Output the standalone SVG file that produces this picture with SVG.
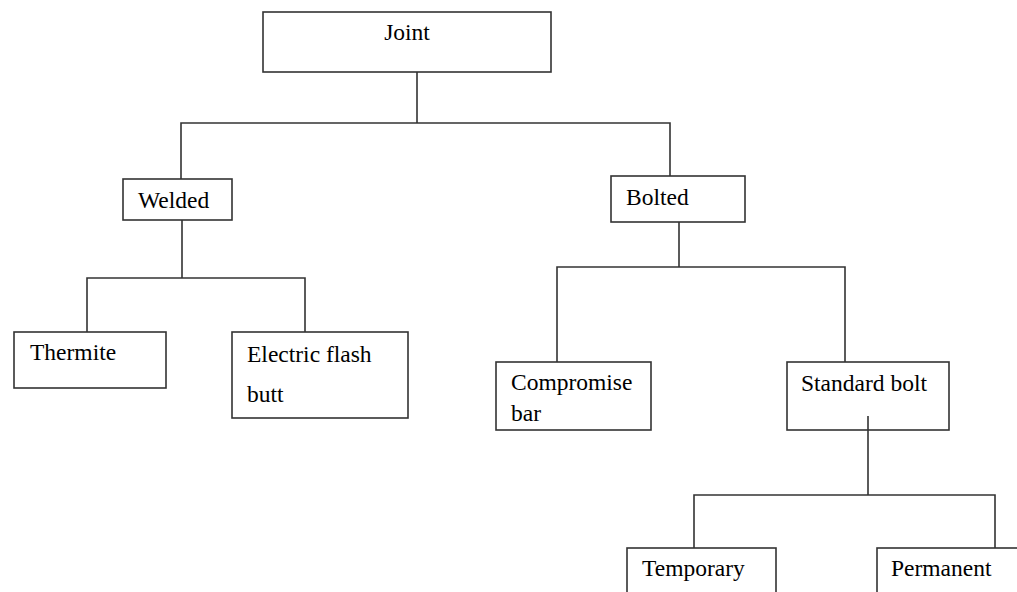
<svg xmlns="http://www.w3.org/2000/svg" width="1017" height="592" viewBox="0 0 1017 592">
<style>
.box{fill:#fff;stroke:#333;stroke-width:1.6}
.con{fill:none;stroke:#333;stroke-width:1.6}
text{font-family:"Liberation Serif","Times New Roman",serif;font-size:23.5px;fill:#000}
</style>
<rect width="1017" height="592" fill="#fff"/>
<g id="joint"><rect class="box" x="263" y="12" width="288" height="60"/><text x="407" y="40" text-anchor="middle">Joint</text></g>
<g id="welded"><rect class="box" x="123" y="179" width="109" height="41"/><text x="138" y="208">Welded</text></g>
<g id="bolted"><rect class="box" x="611" y="176" width="134" height="46"/><text x="626" y="205">Bolted</text></g>
<g id="thermite"><rect class="box" x="14" y="332" width="152" height="56"/><text x="30" y="360">Thermite</text></g>
<g id="electric"><rect class="box" x="232" y="332" width="176" height="86"/><text x="247" y="362">Electric flash</text><text x="247" y="402">butt</text></g>
<g id="compromise"><rect class="box" x="496" y="362" width="155" height="68"/><text x="511" y="390">Compromise</text><text x="511" y="421">bar</text></g>
<g id="standard"><rect class="box" x="787" y="362" width="162" height="68"/><text x="801" y="391">Standard bolt</text></g>
<g id="temporary"><rect class="box" x="627" y="548" width="149" height="60"/><text x="642" y="576">Temporary</text></g>
<g id="permanent"><rect class="box" x="877" y="548" width="160" height="60"/><text x="891" y="576">Permanent</text></g>
<g id="connectors">
<path class="con" d="M417 72V123M181 179V123H670V176"/>
<path class="con" d="M182 220V278M87 332V278H305V332"/>
<path class="con" d="M679 222V267M557 362V267H845V362"/>
<path class="con" d="M868 416V495M694 548V495H995V548"/>
</g>
</svg>
